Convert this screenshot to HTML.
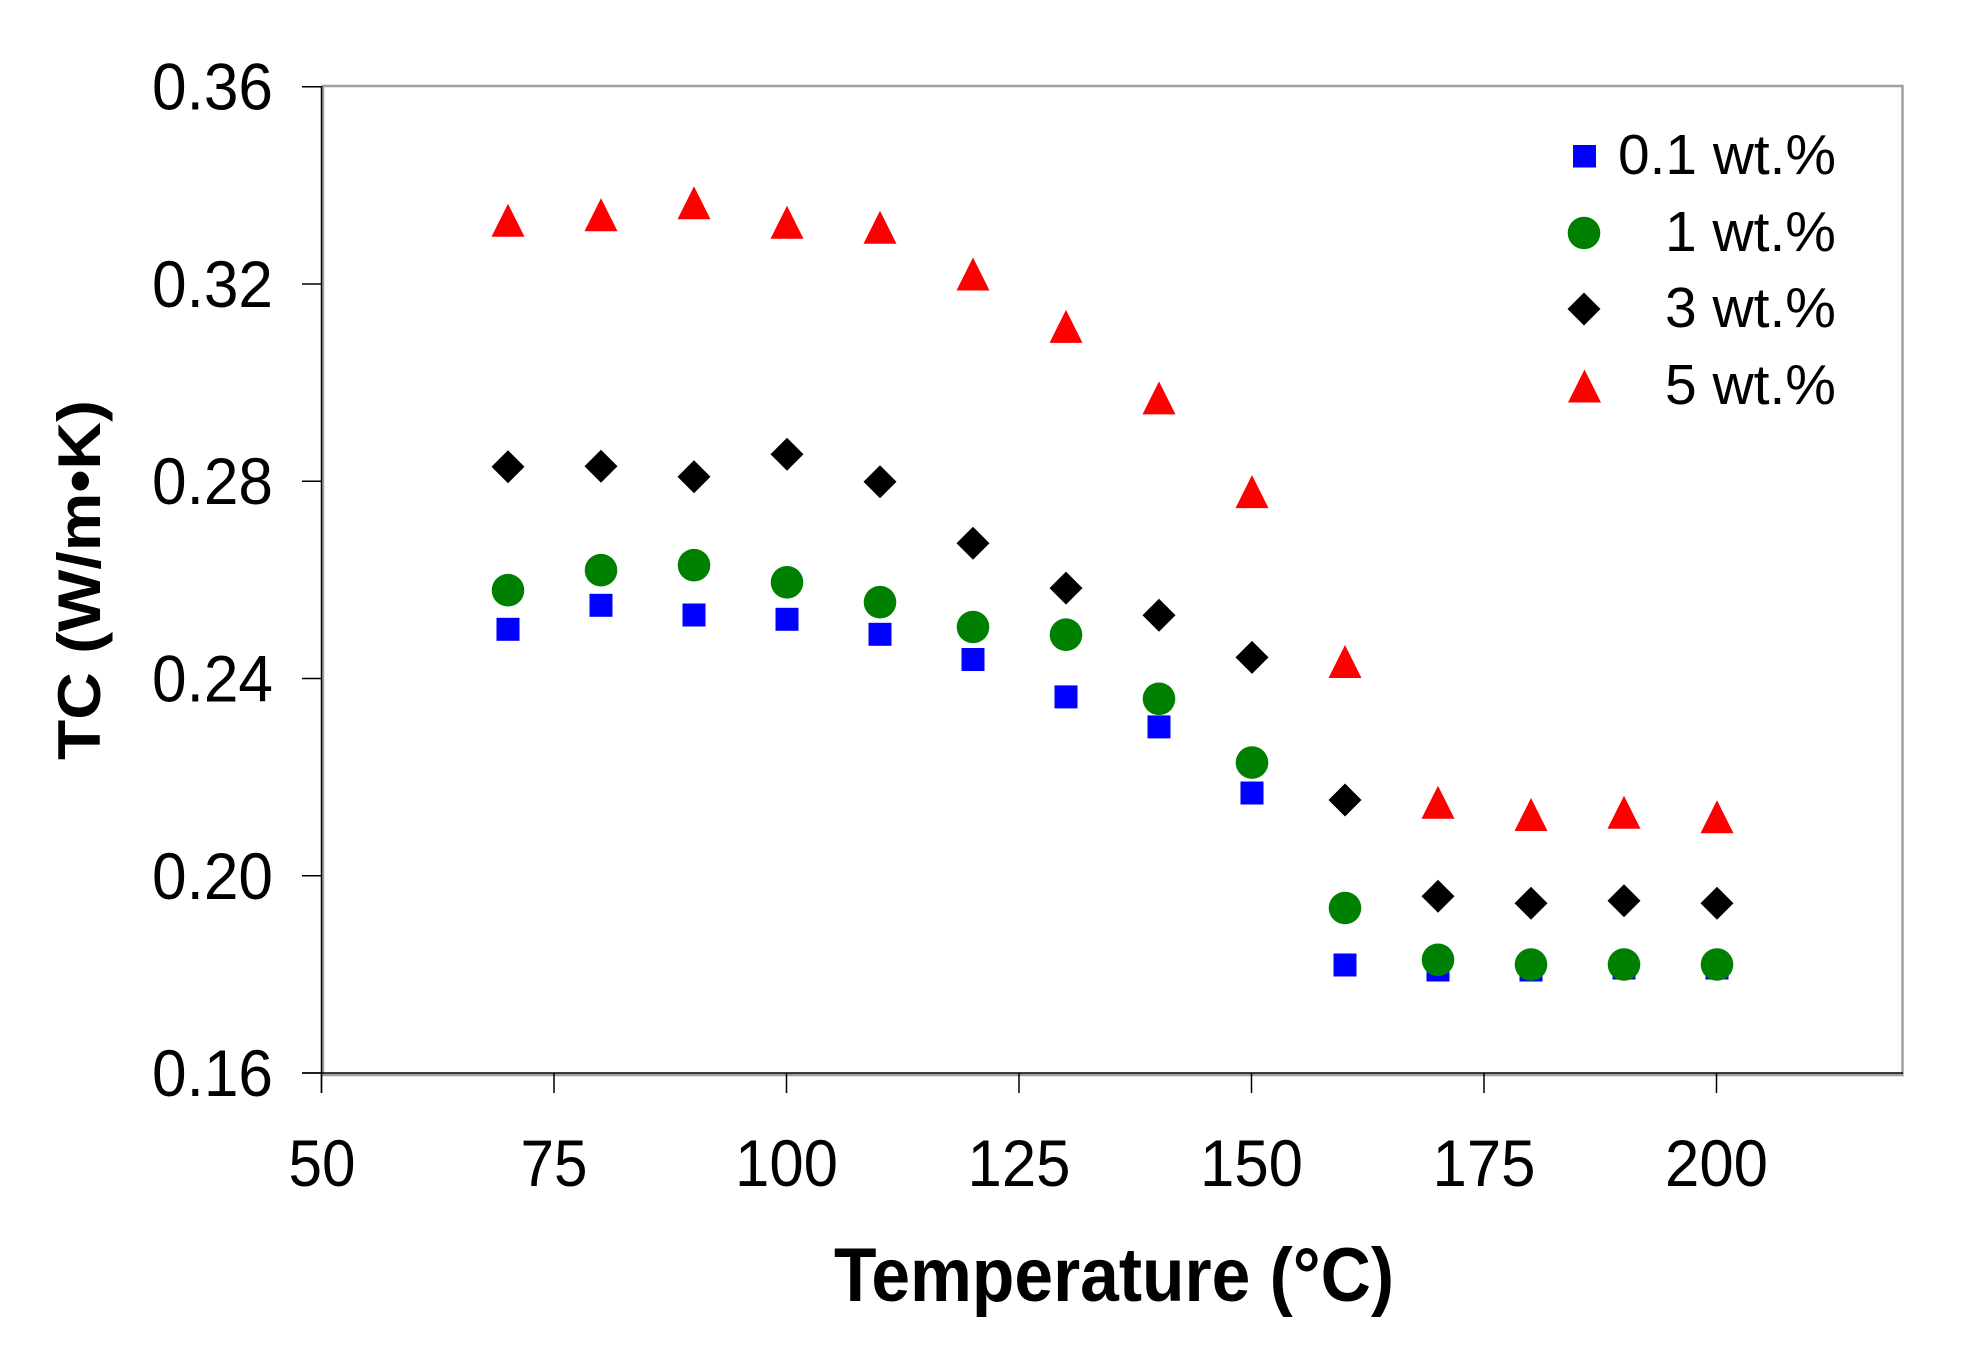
<!DOCTYPE html>
<html>
<head>
<meta charset="utf-8">
<style>
  html, body { margin: 0; padding: 0; background: #ffffff; }
  svg { display: block; }
  text { font-family: "Liberation Sans", Arial, sans-serif; fill: #000; }
</style>
</head>
<body>
<svg width="1966" height="1356" viewBox="0 0 1966 1356" xmlns="http://www.w3.org/2000/svg">
  <rect x="0" y="0" width="1966" height="1356" fill="#ffffff"/>

  <!-- plot area gray border -->
  <rect x="323" y="86" width="1579.5" height="989" fill="none" stroke="#a0a0a0" stroke-width="2.5"/>

  <!-- black axes -->
  <line x1="321.5" y1="86" x2="321.5" y2="1093" stroke="#000" stroke-width="1.5"/>
  <line x1="302" y1="1073" x2="1903" y2="1073" stroke="#000" stroke-width="1.5"/>

  <!-- y ticks -->
  <g stroke="#000" stroke-width="1.5">
    <line x1="302" y1="86.7" x2="322" y2="86.7"/>
    <line x1="302" y1="284" x2="322" y2="284"/>
    <line x1="302" y1="481.2" x2="322" y2="481.2"/>
    <line x1="302" y1="678.5" x2="322" y2="678.5"/>
    <line x1="302" y1="875.8" x2="322" y2="875.8"/>
    <line x1="302" y1="1073" x2="322" y2="1073"/>
  </g>
  <!-- x ticks -->
  <g stroke="#000" stroke-width="1.5">
    <line x1="321.5" y1="1073" x2="321.5" y2="1093"/>
    <line x1="554" y1="1073" x2="554" y2="1093"/>
    <line x1="786.5" y1="1073" x2="786.5" y2="1093"/>
    <line x1="1019" y1="1073" x2="1019" y2="1093"/>
    <line x1="1251.5" y1="1073" x2="1251.5" y2="1093"/>
    <line x1="1484" y1="1073" x2="1484" y2="1093"/>
    <line x1="1716.5" y1="1073" x2="1716.5" y2="1093"/>
  </g>

  <!-- y tick labels -->
  <g font-size="65.6" text-anchor="end">
    <text x="273" y="109.7" textLength="121" lengthAdjust="spacingAndGlyphs">0.36</text>
    <text x="273" y="307" textLength="121" lengthAdjust="spacingAndGlyphs">0.32</text>
    <text x="273" y="504.2" textLength="121" lengthAdjust="spacingAndGlyphs">0.28</text>
    <text x="273" y="701.5" textLength="121" lengthAdjust="spacingAndGlyphs">0.24</text>
    <text x="273" y="898.8" textLength="121" lengthAdjust="spacingAndGlyphs">0.20</text>
    <text x="273" y="1096" textLength="121" lengthAdjust="spacingAndGlyphs">0.16</text>
  </g>

  <!-- x tick labels -->
  <g font-size="65.6">
    <text x="288.5" y="1186" textLength="67" lengthAdjust="spacingAndGlyphs">50</text>
    <text x="520.5" y="1186" textLength="67" lengthAdjust="spacingAndGlyphs">75</text>
    <text x="735" y="1186" textLength="103" lengthAdjust="spacingAndGlyphs">100</text>
    <text x="967.5" y="1186" textLength="103" lengthAdjust="spacingAndGlyphs">125</text>
    <text x="1200" y="1186" textLength="103" lengthAdjust="spacingAndGlyphs">150</text>
    <text x="1432.5" y="1186" textLength="103" lengthAdjust="spacingAndGlyphs">175</text>
    <text x="1665" y="1186" textLength="103" lengthAdjust="spacingAndGlyphs">200</text>
  </g>

  <!-- axis titles -->
  <text x="834" y="1301" font-size="76" font-weight="bold" textLength="560" lengthAdjust="spacingAndGlyphs">Temperature (°C)</text>
  <text transform="translate(100,760) rotate(-90)" x="0" y="0" font-size="60" font-weight="bold" textLength="360" lengthAdjust="spacingAndGlyphs">TC (W/m•K)</text>

  <!-- series 0.1 wt.% : blue squares -->
  <g fill="#0000ff">
    <rect x="496.5" y="617.8" width="23" height="23"/>
    <rect x="589.5" y="593.8" width="23" height="23"/>
    <rect x="682.5" y="603.5" width="23" height="23"/>
    <rect x="775.5" y="607.8" width="23" height="23"/>
    <rect x="868.5" y="622.8" width="23" height="23"/>
    <rect x="961.5" y="648" width="23" height="23"/>
    <rect x="1054.5" y="685.4" width="23" height="23"/>
    <rect x="1147.5" y="715.4" width="23" height="23"/>
    <rect x="1240.5" y="781.5" width="23" height="23"/>
    <rect x="1333.5" y="953.5" width="23" height="23"/>
    <rect x="1426.5" y="958.5" width="23" height="23"/>
    <rect x="1519.5" y="958.5" width="23" height="23"/>
    <rect x="1612.5" y="956.5" width="23" height="23"/>
    <rect x="1705.5" y="956.5" width="23" height="23"/>
  </g>

  <!-- series 1 wt.% : green circles -->
  <g fill="#008000">
    <circle cx="508" cy="590.2" r="16.3"/>
    <circle cx="601" cy="570.2" r="16.3"/>
    <circle cx="694" cy="565.2" r="16.3"/>
    <circle cx="787" cy="582.3" r="16.3"/>
    <circle cx="880" cy="602.2" r="16.3"/>
    <circle cx="973" cy="627" r="16.3"/>
    <circle cx="1066" cy="634.7" r="16.3"/>
    <circle cx="1159" cy="698.8" r="16.3"/>
    <circle cx="1252" cy="762.6" r="16.3"/>
    <circle cx="1345" cy="908" r="16.3"/>
    <circle cx="1438" cy="959.8" r="16.3"/>
    <circle cx="1531" cy="964.5" r="16.3"/>
    <circle cx="1624" cy="964.5" r="16.3"/>
    <circle cx="1717" cy="964.5" r="16.3"/>
  </g>

  <!-- series 3 wt.% : black diamonds -->
  <g fill="#000000">
    <polygon points="508,450.2 524.5,466.7 508,483.2 491.5,466.7"/>
    <polygon points="601,449.8 617.5,466.3 601,482.8 584.5,466.3"/>
    <polygon points="694,460.3 710.5,476.8 694,493.3 677.5,476.8"/>
    <polygon points="787,437.7 803.5,454.2 787,470.7 770.5,454.2"/>
    <polygon points="880,465.3 896.5,481.8 880,498.3 863.5,481.8"/>
    <polygon points="973,526.7 989.5,543.2 973,559.7 956.5,543.2"/>
    <polygon points="1066,571.6 1082.5,588.1 1066,604.6 1049.5,588.1"/>
    <polygon points="1159,598.8 1175.5,615.3 1159,631.8 1142.5,615.3"/>
    <polygon points="1252,640.9 1268.5,657.4 1252,673.9 1235.5,657.4"/>
    <polygon points="1345,783.5 1361.5,800 1345,816.5 1328.5,800"/>
    <polygon points="1438,879.8 1454.5,896.3 1438,912.8 1421.5,896.3"/>
    <polygon points="1531,886.8 1547.5,903.3 1531,919.8 1514.5,903.3"/>
    <polygon points="1624,884.2 1640.5,900.7 1624,917.2 1607.5,900.7"/>
    <polygon points="1717,886.8 1733.5,903.3 1717,919.8 1700.5,903.3"/>
  </g>

  <!-- series 5 wt.% : red triangles -->
  <g fill="#ff0000">
    <polygon points="508,203.8 524.5,236.8 491.5,236.8"/>
    <polygon points="601,198.3 617.5,231.3 584.5,231.3"/>
    <polygon points="694,186.2 710.5,219.2 677.5,219.2"/>
    <polygon points="787,205.8 803.5,238.8 770.5,238.8"/>
    <polygon points="880,210.8 896.5,243.8 863.5,243.8"/>
    <polygon points="973,257.5 989.5,290.5 956.5,290.5"/>
    <polygon points="1066,309.9 1082.5,342.9 1049.5,342.9"/>
    <polygon points="1159,381.4 1175.5,414.4 1142.5,414.4"/>
    <polygon points="1252,475.1 1268.5,508.1 1235.5,508.1"/>
    <polygon points="1345,645 1361.5,678 1328.5,678"/>
    <polygon points="1438,785.8 1454.5,818.8 1421.5,818.8"/>
    <polygon points="1531,798 1547.5,831 1514.5,831"/>
    <polygon points="1624,795.8 1640.5,828.8 1607.5,828.8"/>
    <polygon points="1717,800.2 1733.5,833.2 1700.5,833.2"/>
  </g>

  <!-- legend -->
  <rect x="1573" y="145" width="23" height="22.5" fill="#0000ff"/>
  <circle cx="1584" cy="233" r="16.3" fill="#008000"/>
  <polygon points="1584,292.5 1600.5,309 1584,325.5 1567.5,309" fill="#000000"/>
  <polygon points="1584.5,369.5 1601,402.5 1568,402.5" fill="#ff0000"/>

  <g font-size="57" text-anchor="end">
    <text x="1836" y="174" textLength="218" lengthAdjust="spacingAndGlyphs">0.1 wt.%</text>
    <text x="1836" y="251">1 wt.%</text>
    <text x="1836" y="327">3 wt.%</text>
    <text x="1836" y="404">5 wt.%</text>
  </g>
</svg>
</body>
</html>
